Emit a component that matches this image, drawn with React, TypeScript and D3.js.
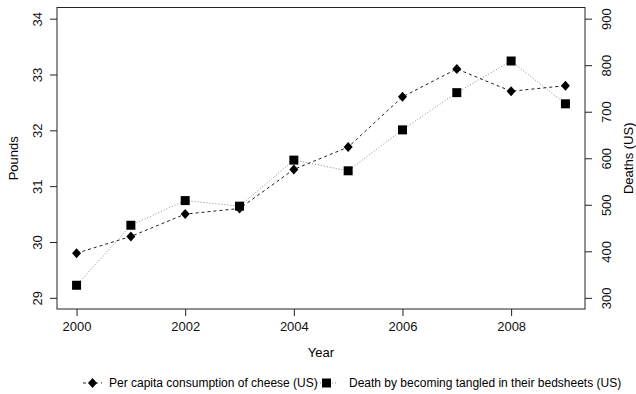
import React, { useRef, useEffect } from "react";
import * as d3 from "d3";

const YEARS = [2000, 2001, 2002, 2003, 2004, 2005, 2006, 2007, 2008, 2009];
const CHEESE = [29.8, 30.1, 30.5, 30.6, 31.3, 31.7, 32.6, 33.1, 32.7, 32.8];
const BEDSHEETS = [327, 456, 509, 497, 596, 573, 661, 741, 809, 717];
const X_TICKS = [2000, 2002, 2004, 2006, 2008];
const LEFT_TICKS = [29, 30, 31, 32, 33, 34];
const RIGHT_TICKS = [300, 400, 500, 600, 700, 800, 900];
const LEGEND = [
  "Per capita consumption of cheese (US)",
  "Death by becoming tangled in their bedsheets (US)",
];

const W = 636;
const H = 394;
const FONT = "'Liberation Sans', Arial, Helvetica, sans-serif";

export default function App() {
  const svgRef = useRef<SVGSVGElement | null>(null);

  useEffect(() => {
    if (!svgRef.current) return;
    const svg = d3.select(svgRef.current);
    svg.selectAll("*").remove();

    const box = { left: 57, right: 585, top: 7.5, bottom: 309 };

    // R style: 4% padding on each side of the range
    const x = d3.scaleLinear().domain([2000 - 0.36, 2009 + 0.36]).range([box.left, box.right]);
    const yL = d3.scaleLinear().domain([28.8, 34.2]).range([box.bottom, box.top]);
    const yR = d3.scaleLinear().domain([276, 924]).range([box.bottom, box.top]);

    svg.append("rect")
      .attr("width", W).attr("height", H).attr("fill", "#fff");

    // plot box
    svg.append("rect")
      .attr("x", box.left).attr("y", box.top)
      .attr("width", box.right - box.left).attr("height", box.bottom - box.top)
      .attr("fill", "none").attr("stroke", "#222").attr("stroke-width", 1);

    const styleAxis = (g: any) => {
      g.select(".domain").remove();
      g.selectAll(".tick line").attr("stroke", "#222");
      g.selectAll("text").attr("fill", "#111").attr("font-size", 13).attr("font-family", FONT);
    };

    // x axis
    svg.append("g")
      .attr("transform", `translate(0,${box.bottom})`)
      .call(d3.axisBottom(x).tickValues(X_TICKS).tickFormat(d3.format("d")).tickSize(7).tickPadding(6))
      .call(styleAxis);

    // left axis, labels turned
    svg.append("g")
      .attr("transform", `translate(${box.left},0)`)
      .call(d3.axisLeft(yL).tickValues(LEFT_TICKS).tickFormat(d3.format("d")).tickSize(7))
      .call(styleAxis)
      .selectAll("text")
      .attr("x", 0).attr("y", 0).attr("dy", "0.35em")
      .attr("text-anchor", "middle")
      .attr("transform", "translate(-20,0) rotate(-90)");

    // right axis
    svg.append("g")
      .attr("transform", `translate(${box.right},0)`)
      .call(d3.axisRight(yR).tickValues(RIGHT_TICKS).tickFormat(d3.format("d")).tickSize(7))
      .call(styleAxis)
      .selectAll("text")
      .attr("x", 0).attr("y", 0).attr("dy", "0.35em")
      .attr("text-anchor", "middle")
      .attr("transform", "translate(21,0) rotate(-90)");

    // axis titles
    const midY = (box.top + box.bottom) / 2;
    svg.append("text")
      .attr("x", (box.left + box.right) / 2).attr("y", 357)
      .attr("text-anchor", "middle").attr("font-size", 13).attr("font-family", FONT)
      .text("Year");
    svg.append("text")
      .attr("transform", `translate(13,${midY}) rotate(-90)`)
      .attr("dy", "0.35em")
      .attr("text-anchor", "middle").attr("font-size", 13).attr("font-family", FONT)
      .text("Pounds");
    svg.append("text")
      .attr("transform", `translate(628,${midY}) rotate(-90)`)
      .attr("dy", "0.35em")
      .attr("text-anchor", "middle").attr("font-size", 13).attr("font-family", FONT)
      .text("Deaths (US)");

    // lines
    const cheeseLine = d3.line<number>().x((d, i) => x(YEARS[i])).y(d => yL(d));
    const bedLine = d3.line<number>().x((d, i) => x(YEARS[i])).y(d => yR(d));

    svg.append("path")
      .datum(BEDSHEETS)
      .attr("d", bedLine)
      .attr("fill", "none").attr("stroke", "#888")
      .attr("stroke-width", 1).attr("stroke-dasharray", "1,2");

    svg.append("path")
      .datum(CHEESE)
      .attr("d", cheeseLine)
      .attr("fill", "none").attr("stroke", "#222")
      .attr("stroke-width", 1).attr("stroke-dasharray", "3,3");

    const diamond = "M0,-5L4.5,0L0,5L-4.5,0Z";
    const square = "M-4.5,-4.5H4.5V4.5H-4.5Z";

    svg.selectAll(".sq")
      .data(BEDSHEETS)
      .enter()
      .append("path")
      .attr("d", square)
      .attr("transform", (d, i) => `translate(${x(YEARS[i])},${yR(d)})`)
      .attr("fill", "#000");

    svg.selectAll(".dm")
      .data(CHEESE)
      .enter()
      .append("path")
      .attr("d", diamond)
      .attr("transform", (d, i) => `translate(${x(YEARS[i])},${yL(d)})`)
      .attr("fill", "#000");

    // legend (horizontal, R style)
    const ly = 383;
    const items = [
      { x0: 83, tx: 109, label: LEGEND[0], shape: diamond, dash: "3,3", stroke: "#222" },
      { x0: 317, tx: 349, label: LEGEND[1], shape: square, dash: "1,2", stroke: "#888" },
    ];
    items.forEach(it => {
      const g = svg.append("g");
      g.append("line")
        .attr("x1", it.x0).attr("x2", it.x0 + 19)
        .attr("y1", ly).attr("y2", ly)
        .attr("stroke", it.stroke).attr("stroke-dasharray", it.dash);
      g.append("path")
        .attr("d", it.shape)
        .attr("transform", `translate(${it.x0 + 9.5},${ly})`)
        .attr("fill", "#000");
      g.append("text")
        .attr("x", it.tx).attr("y", ly).attr("dy", "0.35em")
        .attr("font-size", 12).attr("font-family", FONT)
        .text(it.label);
    });
  }, []);

  return (
    <svg
      ref={svgRef}
      width={W}
      height={H}
      style={{ position: "absolute", left: 0, top: 0, display: "block" }}
    />
  );
}
